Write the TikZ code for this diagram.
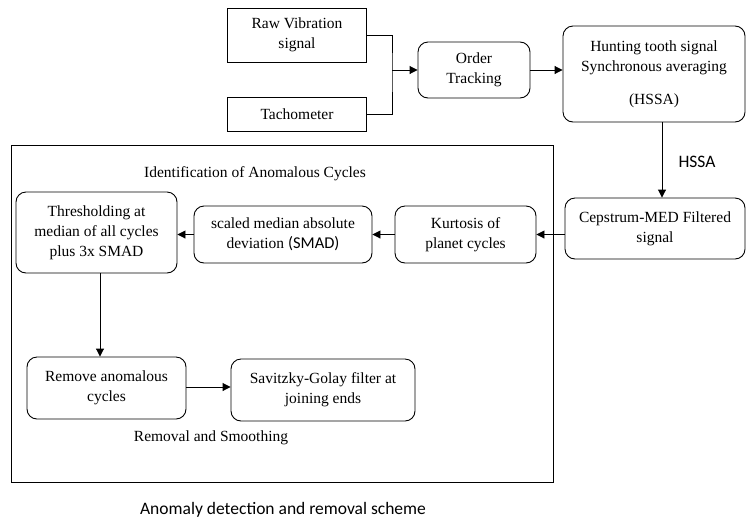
\documentclass[tikz,border=0pt]{standalone}
\usepackage{fontspec}
\setmainfont{Liberation Serif}
\newfontfamily\calib{Carlito}
\usetikzlibrary{arrows.meta,calc}
\tikzset{
  box/.style={draw, line width=0.9pt, align=center, inner sep=0pt, font=\fontsize{15.5}{20}\selectfont},
  rbox/.style={box, rounded corners=10pt},
  arr/.style={line width=0.9pt, -{Triangle[length=8pt,width=8pt]}},
  ln/.style={line width=0.9pt},
  lbl/.style={font=\fontsize{15.5}{18}\selectfont, inner sep=0pt},
}
\begin{document}
\begin{tikzpicture}[x=1pt,y=-1pt]
\useasboundingbox (0,0) rectangle (746,520);
% nodes
\node[box, minimum width=139pt, minimum height=54pt] (raw) at (297,35) {Raw Vibration\\signal};
\node[box, minimum width=139pt, minimum height=34pt] (tach) at (297,114) {Tachometer};
\node[rbox, minimum width=112pt, minimum height=56pt] (order) at (474,70) {Order\\Tracking};
\node[rbox, minimum width=182pt, minimum height=96pt] (hunt) at (654,74) {Hunting tooth signal\\Synchronous averaging\\[13pt](HSSA)};
\node[rbox, minimum width=180pt, minimum height=61pt] (cep) at (655,228.5) {Cepstrum-MED Filtered\\signal};
\node[rbox, minimum width=141pt, minimum height=57pt] (kurt) at (465.5,234.5) {Kurtosis of\\planet cycles};
\node[rbox, minimum width=178pt, minimum height=57pt] (smad) at (283,234.5) {scaled median absolute\\deviation {\calib\fontsize{16.5}{20}\selectfont(SMAD)}};
\node[rbox, minimum width=161pt, minimum height=81pt] (thr) at (96.5,232.5) {Thresholding at\\median of all cycles\\plus 3x SMAD};
\node[rbox, minimum width=159pt, minimum height=62pt] (rem) at (106.5,388) {Remove anomalous\\cycles};
\node[rbox, minimum width=184pt, minimum height=62pt] (sav) at (323,390) {Savitzky-Golay filter at\\joining ends};
% frame
\node[draw, line width=0.9pt, minimum width=542pt, minimum height=337pt, inner sep=0pt] (frame) at (282,313.5) {};
% labels
\node[lbl] (ident) at (255,174) {Identification of Anomalous Cycles};
\node[lbl] (removal) at (211,438) {Removal and Smoothing};
\node[inner sep=0pt, font=\calib\fontsize{17.5}{20}\selectfont] (hssa) at (697,162) {HSSA};
\node[inner sep=0pt, font=\calib\fontsize{17.5}{20}\selectfont] (cap) at (283,510) {Anomaly detection and removal scheme};
% connectors
\coordinate (j) at (392,70);
\draw[ln] (raw.east) -| (j) |- (tach.east);
\draw[arr] (j) -- (j -| order.west);
\draw[arr] (order.east) -- (order.east -| hunt.west);
\coordinate (hb) at (662,122);
\draw[arr] (hb) -- (hb |- cep.north);
\draw[arr] (cep.west |- kurt.east) -- (kurt.east);
\draw[arr] (kurt.west) -- (smad.east);
\draw[arr] (smad.west) -- (smad.west -| thr.east);
\coordinate (tb) at (100,273);
\draw[arr] (tb) -- (tb |- rem.north);
\draw[arr] (rem.east |- 0,387) -- (sav.west |- 0,387);
\end{tikzpicture}
\end{document}
